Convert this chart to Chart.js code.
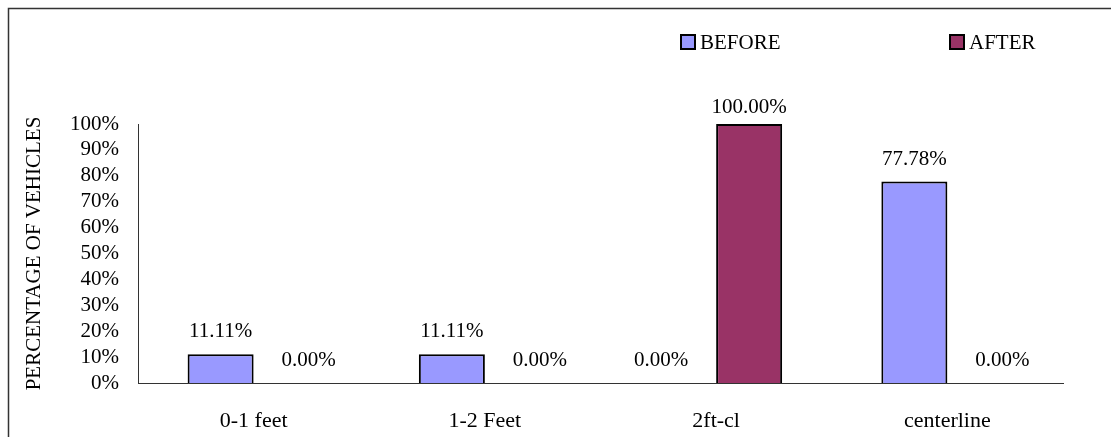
<!DOCTYPE html>
<html>
<head>
<meta charset="utf-8">
<script src="https://cdn.jsdelivr.net/npm/chart.js@4/dist/chart.umd.min.js"></script>
<style>
  html, body { margin: 0; padding: 0; background: #fff; }
  #wrap { width: 1111px; height: 437px; position: relative; }
</style>
</head>
<body>
<div id="wrap"><canvas id="myChart" width="1111" height="437"></canvas></div>
<script>
// datos del grafico
const categories = ['0-1 feet', '1-2 Feet', '2ft-cl', 'centerline'];
const beforeValues = [11.11, 11.11, 0, 77.78];
const afterValues = [0, 0, 100, 0];
const seriesNames = ['BEFORE', 'AFTER'];
const seriesColors = ['#9999FF', '#993366'];

const serif = "'Liberation Serif', 'Times New Roman', serif";

// marco del grafico (solo arriba e izquierda visibles)
const framePlugin = {
  id: 'frame',
  beforeDraw(chart) {
    const ctx = chart.ctx;
    ctx.save();
    ctx.fillStyle = '#fff';
    ctx.fillRect(0, 0, chart.width, chart.height);
    ctx.strokeStyle = '#333';
    ctx.lineWidth = 1.5;
    ctx.beginPath();
    ctx.moveTo(8.5, chart.height);
    ctx.lineTo(8.5, 8.5);
    ctx.lineTo(chart.width, 8.5);
    ctx.stroke();
    ctx.restore();
  }
};

// leyenda separada como en Excel
const legendPlugin = {
  id: 'wideLegend',
  afterDraw(chart, args, opts) {
    const ctx = chart.ctx;
    ctx.save();
    ctx.font = '21px ' + serif;
    ctx.textBaseline = 'middle';
    chart.data.datasets.forEach((ds, i) => {
      const x = opts.xs[i], y = opts.y;
      ctx.fillStyle = ds.backgroundColor;
      ctx.fillRect(x, y - 7, 14, 14);
      ctx.strokeStyle = '#000';
      ctx.lineWidth = 2;
      ctx.strokeRect(x, y - 7, 14, 14);
      ctx.fillStyle = '#000';
      ctx.fillText(ds.label, x + 19, y + 1);
    });
    ctx.restore();
  }
};

// etiquetas de valor encima de cada barra
const valueLabels = {
  id: 'valueLabels',
  afterDatasetsDraw(chart) {
    const ctx = chart.ctx;
    ctx.save();
    ctx.font = '21px ' + serif;
    ctx.fillStyle = '#000';
    ctx.textAlign = 'center';
    ctx.textBaseline = 'alphabetic';
    chart.data.datasets.forEach((ds, di) => {
      const meta = chart.getDatasetMeta(di);
      meta.data.forEach((bar, i) => {
        const v = ds.data[i];
        let x = bar.x;
        if (v === 0) x += (di === 0 ? -22 : 22);
        let y = bar.y - 17;
        if (v >= 100) y = bar.y - 11;
        ctx.fillText(v.toFixed(2) + '%', x, y);
      });
    });
    ctx.restore();
  }
};

const chart = new Chart(document.getElementById('myChart'), {
  type: 'bar',
  data: {
    labels: categories,
    datasets: [{
      label: seriesNames[0],
      data: beforeValues,
      backgroundColor: seriesColors[0],
      borderColor: '#000',
      borderWidth: 2,
      categoryPercentage: 0.571,
      barPercentage: 1
    }, {
      label: seriesNames[1],
      data: afterValues,
      backgroundColor: seriesColors[1],
      borderColor: '#000',
      borderWidth: 2,
      categoryPercentage: 0.571,
      barPercentage: 1
    }]
  },
  options: {
    responsive: false,
    animation: false,
    layout: { padding: { left: 0, top: 124, right: 48, bottom: 0 } },
    plugins: {
      legend: { display: false },
      tooltip: { enabled: false },
      wideLegend: { xs: [681, 950], y: 42 }
    },
    scales: {
      x: {
        grid: { display: false, drawTicks: false },
        border: { display: true, color: '#333', width: 1 },
        ticks: { color: '#000', font: { family: serif, size: 22 }, padding: 25, maxRotation: 0 },
        afterFit(scale) { scale.height = 54; }
      },
      y: {
        min: 0,
        max: 100,
        grid: { display: false, drawTicks: false },
        border: { display: true, color: '#333', width: 1 },
        ticks: {
          stepSize: 10,
          autoSkip: false,
          color: '#000',
          font: { family: serif, size: 21 },
          padding: 19,
          callback: v => v + '%'
        },
        title: {
          display: true,
          text: 'PERCENTAGE OF VEHICLES',
          color: '#000',
          font: { family: serif, size: 21 },
          padding: { top: 22, bottom: 0 }
        },
        afterFit(scale) { scale.width = 138; }
      }
    }
  },
  plugins: [framePlugin, legendPlugin, valueLabels]
});
</script>
</body>
</html>
